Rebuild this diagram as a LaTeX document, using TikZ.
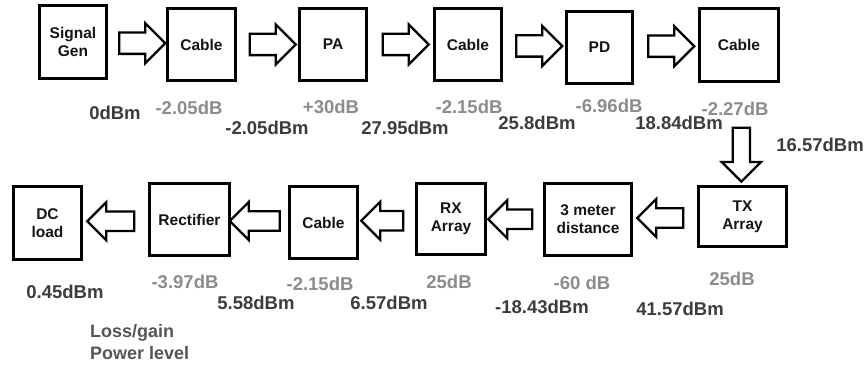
\documentclass[tikz,border=0pt]{standalone}
\usepackage{fontspec}
\setmainfont{Liberation Sans}
\usetikzlibrary{shapes.arrows}
\definecolor{lossgray}{HTML}{8C8C8C}
\definecolor{powgray}{HTML}{3C3C3C}
\definecolor{keygray}{HTML}{555555}
\tikzset{
  blk/.style={draw=black, line width=2.8pt, inner sep=0pt, align=center,
    font=\fontsize{15.5}{18}\selectfont\bfseries, text=black!92},
  barrow/.style={single arrow, draw=black, line width=2.3pt, fill=white,
    minimum height=46pt, minimum width=0pt, single arrow head extend=9.5pt,
    single arrow tip angle=90, inner xsep=0pt, inner ysep=9.5pt},
  lossl/.style={inner sep=0pt, font=\fontsize{18.5}{20}\selectfont\bfseries, text=lossgray},
  powl/.style={inner sep=0pt, font=\fontsize{18.5}{20}\selectfont\bfseries, text=powgray},
  keyl/.style={inner sep=0pt, anchor=west, font=\fontsize{18}{20}\selectfont\bfseries, text=keygray}
}
\begin{document}
\begin{tikzpicture}[x=1pt,y=-1pt]
\useasboundingbox (0,0) rectangle (867,366);
% top row boxes
\node[blk, minimum width=67pt, minimum height=73pt] (sg) at (73,42) {Signal\\Gen};
\node[blk, minimum width=68pt, minimum height=72pt] (c1) at (201.5,44.5) {Cable};
\node[blk, minimum width=67pt, minimum height=72pt] (pa) at (333,44.5) {PA};
\node[blk, minimum width=67pt, minimum height=72pt] (c2) at (468,44.5) {Cable};
\node[blk, minimum width=66pt, minimum height=72pt] (pd) at (599.5,47.5) {PD};
\node[blk, minimum width=79pt, minimum height=73pt] (c3) at (739,45) {Cable};
% bottom row boxes
\node[blk, minimum width=88pt, minimum height=60pt] (tx) at (742.5,216.5) {TX\\Array};
\node[blk, minimum width=87pt, minimum height=72pt] (md) at (588,219.5) {3 meter\\distance};
\node[blk, minimum width=69pt, minimum height=71pt] (rx) at (451,219) {RX\\Array};
\node[blk, minimum width=68pt, minimum height=72pt] (cb) at (323.5,222.5) {Cable};
\node[blk, minimum width=80pt, minimum height=72pt] (rf) at (189.5,219.5) {Rectifier};
\node[blk, minimum width=68pt, minimum height=73pt] (dc) at (47.5,223) {DC\\load};
% block arrows
\path (sg.east) -- node[barrow] (a1) {} (c1.west);
\path (c1.east) -- node[barrow] (a2) {} (pa.west);
\path (pa.east) -- node[barrow] (a3) {} (c2.west);
\path (c2.east) -- node[barrow] (a4) {} (pd.west);
\path (pd.east) -- node[barrow] (a5) {} (c3.west);
\path (c3.south) -- node[barrow, pos=0.66, rotate=-90, minimum height=54pt, inner ysep=7.5pt, single arrow head extend=11pt] (a6) {} (tx.north);
\path (tx.west) -- node[barrow, rotate=180, inner ysep=8.5pt] (a7) {} (md.east);
\path (md.west) -- node[barrow, rotate=180, minimum height=44pt, inner ysep=8.5pt] (a8) {} (rx.east);
\path (rx.west) -- node[barrow, rotate=180, minimum height=42pt, inner ysep=8.5pt] (a9) {} (cb.east);
\path (cb.west) -- node[barrow, rotate=180, minimum height=50pt, inner ysep=8.5pt] (a10) {} (rf.east);
\path (rf.west) -- node[barrow, rotate=180, minimum height=47pt, inner ysep=8.5pt] (a11) {} (dc.east);
% loss / gain labels
\node[lossl] (g1) at (189,108) {-2.05dB};
\node[lossl] (g2) at (331,107) {+30dB};
\node[lossl] (g3) at (469,107) {-2.15dB};
\node[lossl] (g4) at (609,106) {-6.96dB};
\node[lossl] (g5) at (735,109) {-2.27dB};
\node[lossl] (g6) at (732,279) {25dB};
\node[lossl] (g7) at (582,283) {-60 dB};
\node[lossl] (g8) at (449,282) {25dB};
\node[lossl] (g9) at (320,284) {-2.15dB};
\node[lossl] (g10) at (185,282) {-3.97dB};
% power levels
\node[powl] (p1) at (115,113) {0dBm};
\node[powl] (p2) at (267,128) {-2.05dBm};
\node[powl] (p3) at (405,128) {27.95dBm};
\node[powl] (p4) at (537,123) {25.8dBm};
\node[powl] (p5) at (679,123) {18.84dBm};
\node[powl] (p6) at (820,145) {16.57dBm};
\node[powl] (p7) at (680,309) {41.57dBm};
\node[powl] (p8) at (542,307) {-18.43dBm};
\node[powl] (p9) at (389,303) {6.57dBm};
\node[powl] (p10) at (256,303) {5.58dBm};
\node[powl] (p11) at (65,292) {0.45dBm};
% key
\node[keyl] (k1) at (90,333) {Loss/gain};
\node[keyl] (k2) at (90,353) {Power level};
\end{tikzpicture}
\end{document}
